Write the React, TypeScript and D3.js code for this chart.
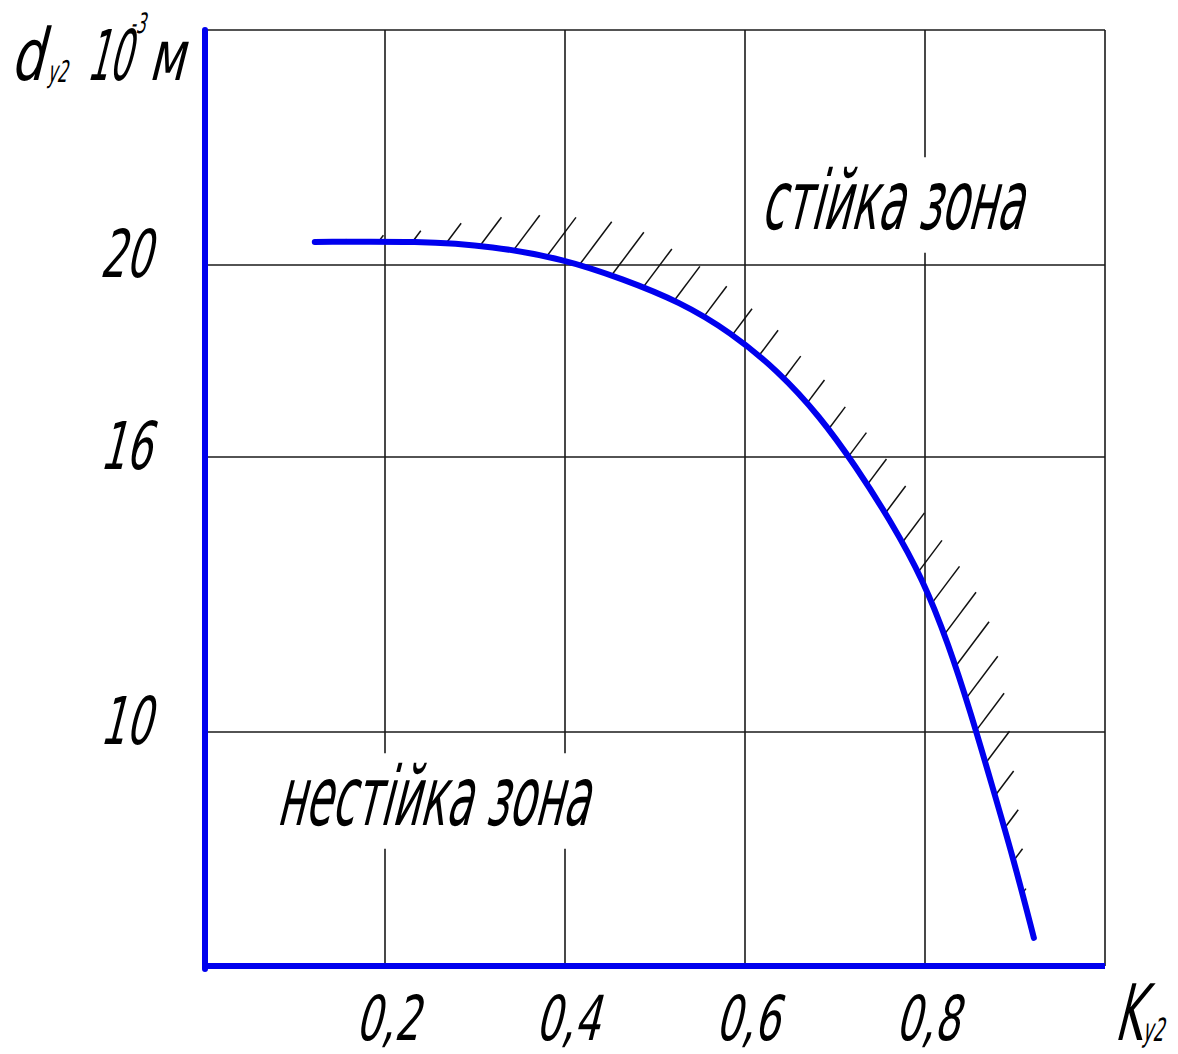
import React, { useRef, useEffect } from "react";
import * as d3 from "d3";

// curve K_y2 -> d_y2 (10^-3 m)
const kValues = [0.122, 0.239, 0.32, 0.398, 0.464, 0.528, 0.584, 0.637, 0.683, 0.723, 0.762, 0.798, 0.826, 0.851, 0.874, 0.898, 0.921];
const dValues = [20.49, 20.51, 20.4, 20.13, 19.71, 19.23, 18.6, 17.79, 16.85, 15.8, 14.6, 13.32, 11.92, 10.41, 8.89, 7.31, 5.6];

const xTicks = [0.2, 0.4, 0.6, 0.8];
const xGrid = [0.2, 0.4, 0.6, 0.8, 1.0];
const yTicks = [10, 16, 20];
const yBreaks = [5, 10, 16, 20, 25];

// lengths of the hatch strokes along the curve (stable side)
const hatchLengths = [3, 8, 14, 25, 36, 44, 49, 54, 54, 48, 43, 38, 33, 32, 28, 29, 28, 30, 32, 34, 37, 40, 46, 53, 56, 53, 47, 40, 31, 23, 15, 6];

const W = 1178;
const H = 1054;
const BLUE = "#0000ee";
const FONT = "'Liberation Sans Narrow', 'DejaVu Sans Condensed', 'Liberation Sans', sans-serif";

const App = () => {
  const svgRef = useRef(null);

  useEffect(() => {
    const svg = d3.select(svgRef.current);
    svg.selectAll("*").remove();

    const margin = { top: 30, right: 73, bottom: 88, left: 205 };
    const x0 = margin.left;
    const x1 = W - margin.right;
    const y0 = H - margin.bottom;
    const y1 = margin.top;

    const x = d3.scaleLinear().domain([0, 1]).range([x0, x1]);
    // the drawing's vertical axis is not quite uniform
    const y = d3.scaleLinear().domain(yBreaks).range([y0, 732, 457, 265, y1]);

    const fmt = (v) => d3.format(".1f")(v).replace(".", ",");

    // grid
    const grid = svg.append("g").attr("stroke", "#1a1a1a").attr("stroke-width", 1.6);
    grid
      .selectAll(".vgrid")
      .data(xGrid)
      .join("line")
      .attr("x1", (d) => x(d))
      .attr("x2", (d) => x(d))
      .attr("y1", y(25))
      .attr("y2", y(5));
    grid
      .selectAll(".hgrid")
      .data([...yTicks, 25])
      .join("line")
      .attr("x1", x(0))
      .attr("x2", x(1))
      .attr("y1", (d) => y(d))
      .attr("y2", (d) => y(d));

    // hatching + curve
    const hatchG = svg.append("g").attr("stroke", "#111").attr("stroke-width", 1.5);

    const line = d3
      .line()
      .x((d) => x(d[0]))
      .y((d) => y(d[1]))
      .curve(d3.curveBasis);

    const pts = kValues.map((k, i) => [k, dValues[i]]);
    const curve = svg
      .append("path")
      .attr("d", line(pts))
      .attr("fill", "none")
      .attr("stroke", BLUE)
      .attr("stroke-width", 6)
      .attr("stroke-linecap", "round");

    const node = curve.node();
    const total = node.getTotalLength();
    const startOff = 30;
    const endOff = 46;
    const step = (total - startOff - endOff) / (hatchLengths.length - 1);
    const dir = [0.6, -0.8];
    hatchG
      .selectAll("line")
      .data(hatchLengths)
      .join("line")
      .each(function (len, i) {
        const p = node.getPointAtLength(startOff + i * step);
        d3.select(this)
          .attr("x1", p.x)
          .attr("y1", p.y)
          .attr("x2", p.x + dir[0] * len)
          .attr("y2", p.y + dir[1] * len);
      });

    // axes (blue)
    svg
      .append("line")
      .attr("x1", x(0))
      .attr("x2", x(0))
      .attr("y1", y(25))
      .attr("y2", y(5) + 3)
      .attr("stroke", BLUE)
      .attr("stroke-width", 6)
      .attr("stroke-linecap", "round");
    svg
      .append("line")
      .attr("x1", x(0))
      .attr("x2", x(1))
      .attr("y1", y(5))
      .attr("y2", y(5))
      .attr("stroke", BLUE)
      .attr("stroke-width", 6);

    // slanted, narrow drafting-style text
    const slanted = (tx, ty, sx = 0.72) =>
      svg.append("g").attr("transform", `translate(${tx},${ty}) skewX(-14) scale(${sx},1)`);

    const word = (tx, ty, size, label, anchor = "start", sx = 0.72) =>
      slanted(tx, ty, sx)
        .append("text")
        .attr("text-anchor", anchor)
        .attr("font-family", FONT)
        .attr("font-size", size)
        .attr("fill", "#000")
        .text(label);

    xTicks.forEach((t) => word(x(t) + 2, y(5) + 74, 62, fmt(t), "middle"));
    yTicks.forEach((t) => word(x(0) - 80, y(t) + 12, 66, t, "middle", 0.68));

    // y title: d_y2 10^-3 м
    word(10, 80, 72, "d", "start", 0.8);
    word(47, 82, 30, "y2", "start", 0.6);
    word(86, 80, 70, "10", "start", 0.55);
    word(130, 33, 28, "-3", "start", 0.6);
    word(148, 80, 70, "м", "start", 0.75);

    // x title: K_y2
    word(1114, 1040, 78, "K", "start", 0.6);
    word(1142, 1041, 32, "y2", "start", 0.6);

    // zone labels with white backing
    const zone = (tx, ty, w, label) => {
      const g = slanted(tx, ty, 1);
      const bg = g.append("rect").attr("fill", "#fff");
      const t = g
        .append("text")
        .attr("font-family", FONT)
        .attr("font-size", 82)
        .attr("fill", "#000")
        .attr("textLength", w)
        .attr("lengthAdjust", "spacingAndGlyphs")
        .text(label);
      const b = t.node().getBBox();
      bg.attr("x", b.x - 6).attr("y", b.y + 4).attr("width", b.width + 12).attr("height", b.height);
    };
    zone(760, 229, 262, "стійка зона");
    zone(276, 825, 312, "нестійка зона");
  }, []);

  return (
    <svg
      ref={svgRef}
      width={W}
      height={H}
      style={{ position: "absolute", left: 0, top: 0, background: "#fff" }}
    ></svg>
  );
};

export default App;
